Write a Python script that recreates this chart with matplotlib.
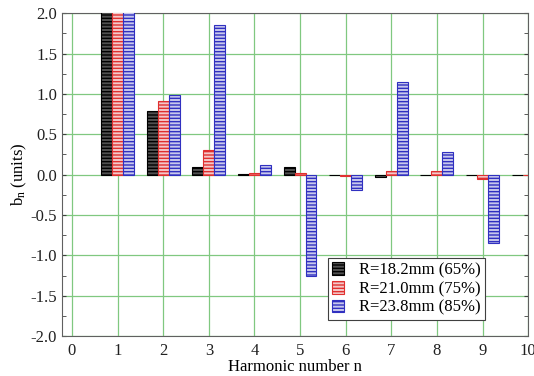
import numpy as np
import matplotlib
matplotlib.use("Agg")
from matplotlib import pyplot as plt
from matplotlib.ticker import MultipleLocator

plt.rcParams['font.family'] = ['Liberation Serif', 'DejaVu Serif']
plt.rcParams['hatch.linewidth'] = 1.0

harmonics = np.arange(1, 11)
labels = ["R=18.2mm (65%)", "R=21.0mm (75%)", "R=23.8mm (85%)"]
b_65 = [2.6, 0.79, 0.10, 0.01, 0.09, -0.01, -0.03, 0.00, -0.01, 0.00]
b_75 = [2.8, 0.91, 0.30, 0.02, 0.02, -0.02, 0.05, 0.04, -0.05, 0.00]
b_85 = [3.0, 0.985, 1.85, 0.12, -1.26, -0.19, 1.15, 0.28, -0.85, 0.00]

edge_colors = ["black", "#e03030", "#3030c0"]
face_colors = ["#505050", "#f4c8c8", "#c8c8ec"]

fig = plt.figure(figsize=(5.34, 3.76), dpi=100)
ax = fig.add_axes([0.116, 0.106, 0.873, 0.859])

w = 0.24
for i, (vals, ec, fc, lab) in enumerate(zip([b_65, b_75, b_85], edge_colors, face_colors, labels)):
    ax.bar(harmonics + (i - 1) * w, vals, width=w, facecolor=fc, edgecolor=ec,
           hatch="-----", linewidth=0.8, label=lab, zorder=3)

ax.set_xlim(-0.22, 10)
ax.set_ylim(-2.0, 2.0)
ax.xaxis.set_major_locator(MultipleLocator(1))
ax.yaxis.set_minor_locator(MultipleLocator(0.25))
ax.grid(True, which="major", color="#80c880", linewidth=0.9, zorder=0)
ax.tick_params(axis="both", which="both", direction="in", labelsize=12, right=True, length=3, colors="#404040")
ax.tick_params(axis="x", length=0, pad=5)
ax.tick_params(labelcolor="#202020")
ax.set_yticks(np.arange(-2.0, 2.01, 0.5))
ax.set_yticklabels(["%.1f" % v for v in np.arange(-2.0, 2.01, 0.5)])
for s in ax.spines.values():
    s.set_color("#606060")

ax.set_xlabel("Harmonic number n", fontsize=12, labelpad=0)
ax.set_ylabel(r"$\mathregular{b_n}$ (units)", fontsize=12, labelpad=1)

leg = ax.legend(loc="lower left", bbox_to_anchor=(0.571, 0.05), borderaxespad=0, fontsize=12,
                frameon=True, fancybox=False, edgecolor="#404040", handlelength=0.7,
                handleheight=0.8, borderpad=0.25, labelspacing=0.15, handletextpad=0.9,
                framealpha=1)
leg.get_frame().set_linewidth(0.8)
leg.set_zorder(5)

plt.savefig("out.png", dpi=100)
